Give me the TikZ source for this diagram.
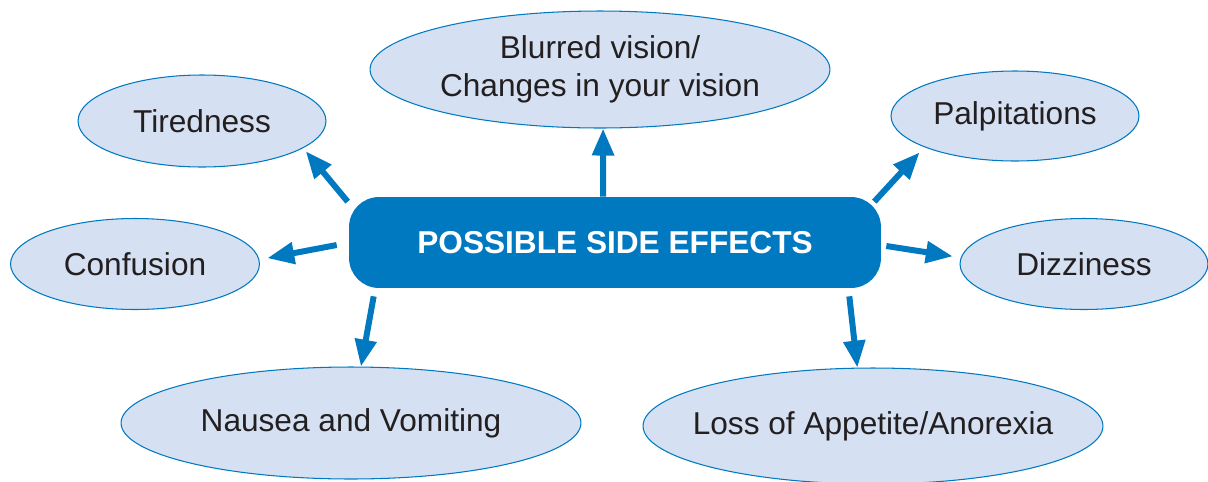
\documentclass[tikz,border=0pt]{standalone}
\usepackage{fontspec}
\setmainfont{Liberation Sans}
\usepackage{xcolor}
\usepackage{tikz}
\usetikzlibrary{positioning,%
  calc,%
  arrows.meta,%
  shapes.geometric
}

\definecolor{sideblue}{HTML}{0079C1}
\definecolor{bubblefill}{HTML}{D5E1F2}
\definecolor{inktext}{HTML}{231F20}

\begin{document}
\begin{tikzpicture}[x=0.02cm,y=-0.02cm,
    bubble/.style={ellipse, fill=bubblefill, draw=sideblue, line width=0.6pt,
      inner sep=0pt, text=inktext, align=center,
      font=\fontsize{18}{21.6}\selectfont},
    arr/.style={draw=sideblue, line width=0.12cm,
      -{Triangle[length=0.54cm,width=0.42cm]}}]
            \useasboundingbox (0,0) rectangle (1208,481);

            % centre box
            \node [fill=sideblue, rounded corners=0.6cm, minimum width=10.64cm,
              minimum height=1.82cm, text=white, font=\fontsize{18}{21.6}\bfseries]
              (box) at (615,242.5) {POSSIBLE SIDE EFFECTS};

            % the effects round it
            \node [bubble, minimum width=9.2cm, minimum height=2.34cm] (blur) at (600,69.5)
              {Blurred vision/\\Changes in your vision};
            \node [bubble, minimum width=4.96cm, minimum height=1.84cm] (tired) at (202,121) {Tiredness};
            \node [bubble, minimum width=4.96cm, minimum height=1.8cm] (palp) at (1015,116) {Palpitations};
            \node [bubble, minimum width=4.98cm, minimum height=1.82cm] (conf) at (135,264) {Confusion};
            \node [bubble, minimum width=4.96cm, minimum height=1.82cm] (dizzy) at (1084,264) {Dizziness};
            \node [bubble, minimum width=9.2cm, minimum height=2.24cm] (naus) at (351,423) {Nausea and Vomiting};
            \node [bubble, minimum width=9.2cm, minimum height=2.32cm, inner xsep=-12pt] (loss) at (873,426)
              {Loss of Appetite/Anorexia};

            % arrows out of the box
            \draw [arr] ($(box.north)+(-12,0)$) -- (blur.-87);
            \draw [arr, shorten >=0.08cm] ($(box.north west)+(-1,5)$) -- (tired.-15);
            \draw [arr, shorten >=0.14cm] ($(box.north east)+(-7,5)$) -- (palp.199);
            \draw [arr, shorten >=0.16cm] ($(box.west)+(-12,2.5)$) -- (conf.2);
            \draw [arr, shorten >=0.16cm] ($(box.east)+(5,3.5)$) -- (dizzy.177);
            \draw [arr] ($(box.south west)+(25,8)$) -- (naus.80);
            \draw [arr] ($(box.south east)+(-32,8)$) -- (loss.105);
        \end{tikzpicture}
\end{document}
